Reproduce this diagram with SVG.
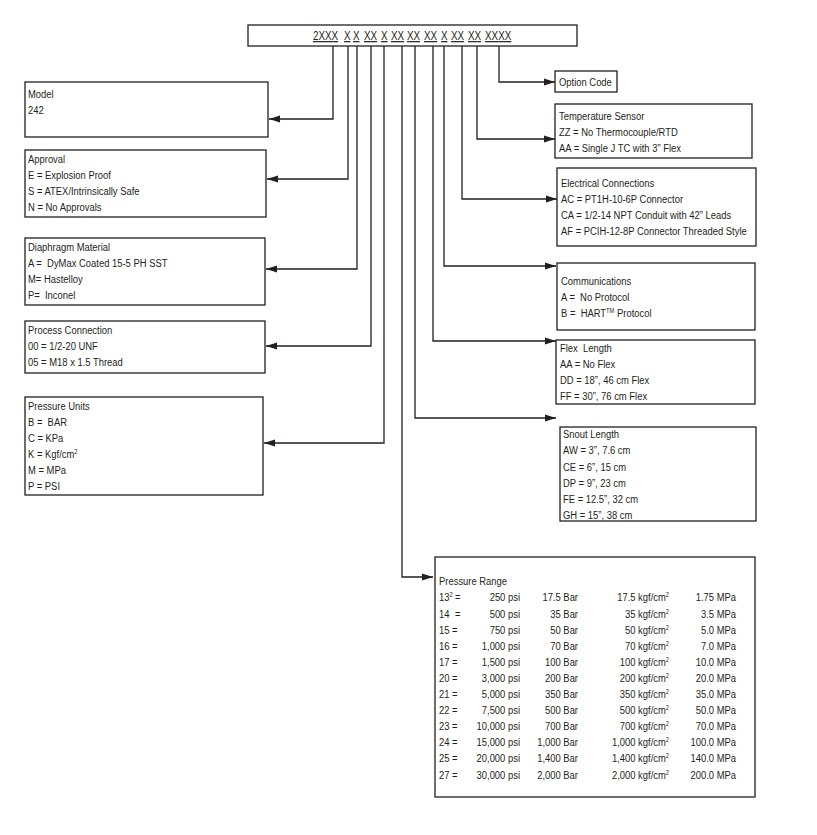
<svg xmlns="http://www.w3.org/2000/svg" width="817" height="835" viewBox="0 0 817 835">
<style>
text{font-family:"Liberation Sans",Arial,sans-serif;font-size:11.5px;fill:#231f20}
.box{fill:#fff;stroke:#231f20;stroke-width:1.3}
.hdr{font-size:12px;text-decoration:underline}
.e{text-anchor:end}
.sup{font-size:7px}
.con{fill:none;stroke:#231f20;stroke-width:1.3}
</style>
<defs>
<marker id="ah" markerUnits="userSpaceOnUse" markerWidth="12" markerHeight="8" refX="11" refY="4" orient="auto">
<path d="M0,0.5 L11,4 L0,7.5 z" fill="#231f20"/>
</marker>
</defs>
<rect width="817" height="835" fill="#fff"/>

<g id="header">
<rect class="box" x="248" y="25" width="329" height="21"/>
<g transform="scale(0.82,1)">
<text class="hdr" x="381.7" y="40">2XXX</text>
<text class="hdr" x="419.5" y="40">X</text>
<text class="hdr" x="430.5" y="40">X</text>
<text class="hdr" x="443.9" y="40">XX</text>
<text class="hdr" x="464.6" y="40">X</text>
<text class="hdr" x="476.8" y="40">XX</text>
<text class="hdr" x="496.3" y="40">XX</text>
<text class="hdr" x="517.1" y="40">XX</text>
<text class="hdr" x="537.8" y="40">X</text>
<text class="hdr" x="550.0" y="40">XX</text>
<text class="hdr" x="570.7" y="40">XX</text>
<text class="hdr" x="591.5" y="40">XXXX</text>
</g>
</g>

<g id="connectors">
<path class="con" marker-end="url(#ah)" d="M333,46 V119 H269"/>
<path class="con" marker-end="url(#ah)" d="M348,46 V179 H267"/>
<path class="con" marker-end="url(#ah)" d="M357,46 V269 H266"/>
<path class="con" marker-end="url(#ah)" d="M371,46 V346 H266"/>
<path class="con" marker-end="url(#ah)" d="M384,46 V443 H264"/>
<path class="con" marker-end="url(#ah)" d="M402,46 V577 H433"/>
<path class="con" marker-end="url(#ah)" d="M415,46 V418 H556"/>
<path class="con" marker-end="url(#ah)" d="M433,46 V341 H556"/>
<path class="con" marker-end="url(#ah)" d="M444,46 V266 H556"/>
<path class="con" marker-end="url(#ah)" d="M462,46 V199 H557"/>
<path class="con" marker-end="url(#ah)" d="M477,46 V139 H555"/>
<path class="con" marker-end="url(#ah)" d="M499,46 V82 H555"/>
</g>

<g id="model">
<rect class="box" x="25" y="82" width="243" height="55"/>
<g transform="scale(0.82,1)">
<text x="34.15" y="98">Model</text>
<text x="34.15" y="114">242</text>
</g>
</g>

<g id="approval">
<rect class="box" x="25" y="150" width="241" height="67"/>
<g transform="scale(0.82,1)">
<text x="34.15" y="163">Approval</text>
<text x="34.15" y="179">E = Explosion Proof</text>
<text x="34.15" y="195">S = ATEX/Intrinsically Safe</text>
<text x="34.15" y="211">N = No Approvals</text>
</g>
</g>

<g id="diaphragm">
<rect class="box" x="25" y="238" width="240" height="67"/>
<g transform="scale(0.82,1)">
<text x="34.15" y="251">Diaphragm Material</text>
<text x="34.15" y="267">A =&#160; DyMax Coated 15-5 PH SST</text>
<text x="34.15" y="283">M= Hastelloy</text>
<text x="34.15" y="299">P=&#160; Inconel</text>
</g>
</g>

<g id="process">
<rect class="box" x="25" y="321" width="240" height="52"/>
<g transform="scale(0.82,1)">
<text x="34.15" y="334">Process Connection</text>
<text x="34.15" y="350">00 = 1/2-20 UNF</text>
<text x="34.15" y="366">05 = M18 x 1.5 Thread</text>
</g>
</g>

<g id="units">
<rect class="box" x="25" y="397" width="238" height="98"/>
<g transform="scale(0.82,1)">
<text x="34.15" y="410">Pressure Units</text>
<text x="34.15" y="426">B =&#160; BAR</text>
<text x="34.15" y="442">C = KPa</text>
<text x="34.15" y="458">K = Kgf/cm<tspan class="sup" dy="-4">2</tspan></text>
<text x="34.15" y="474">M = MPa</text>
<text x="34.15" y="490">P = PSI</text>
</g>
</g>

<g id="option">
<rect class="box" x="555" y="71" width="62" height="21"/>
<g transform="scale(0.82,1)">
<text x="681.7" y="86">Option Code</text>
</g>
</g>

<g id="temperature">
<rect class="box" x="555" y="104" width="197" height="54"/>
<g transform="scale(0.82,1)">
<text x="681.7" y="120">Temperature Sensor</text>
<text x="681.7" y="136">ZZ = No Thermocouple/RTD</text>
<text x="681.7" y="152">AA = Single J TC with 3” Flex</text>
</g>
</g>

<g id="electrical">
<rect class="box" x="557" y="168" width="199" height="78"/>
<g transform="scale(0.82,1)">
<text x="684.15" y="187">Electrical Connections</text>
<text x="684.15" y="203">AC = PT1H-10-6P Connector</text>
<text x="684.15" y="219">CA = 1/2-14 NPT Conduit with 42” Leads</text>
<text x="684.15" y="235">AF = PCIH-12-8P Connector Threaded Style</text>
</g>
</g>

<g id="communications">
<rect class="box" x="557" y="263" width="198" height="67"/>
<g transform="scale(0.82,1)">
<text x="684.15" y="285">Communications</text>
<text x="684.15" y="301">A =&#160; No Protocol</text>
<text x="684.15" y="317">B =&#160; HART<tspan class="sup" dy="-4">TM</tspan><tspan dy="4"> Protocol</tspan></text>
</g>
</g>

<g id="flex">
<rect class="box" x="556" y="340" width="199" height="64"/>
<g transform="scale(0.82,1)">
<text x="682.9" y="352">Flex&#160; Length</text>
<text x="682.9" y="368">AA = No Flex</text>
<text x="682.9" y="384">DD = 18”, 46 cm Flex</text>
<text x="682.9" y="400">FF = 30”, 76 cm Flex</text>
</g>
</g>

<g id="snout">
<rect class="box" x="560" y="427" width="196" height="94"/>
<g transform="scale(0.82,1)">
<text x="686.6" y="438">Snout Length</text>
<text x="686.6" y="454">AW = 3”, 7.6 cm</text>
<text x="686.6" y="471">CE = 6”, 15 cm</text>
<text x="686.6" y="487">DP = 9”, 23 cm</text>
<text x="686.6" y="503">FE = 12.5”, 32 cm</text>
<text x="686.6" y="519">GH = 15”, 38 cm</text>
</g>
</g>

<g id="pressure-range">
<rect class="box" x="435" y="557" width="320" height="240"/>
<g transform="scale(0.82,1)">
<text x="535.4" y="585">Pressure Range</text>
<text x="535.4" y="601.5">13<tspan class="sup" dy="-4">2</tspan></text><text x="554.9" y="601.5">=</text>
<text x="535.4" y="617.6">14</text><text x="554.9" y="617.6">=</text>
<text x="535.4" y="633.7">15 =</text>
<text x="535.4" y="649.8">16 =</text>
<text x="535.4" y="665.9">17 =</text>
<text x="535.4" y="682">20 =</text>
<text x="535.4" y="698.1">21 =</text>
<text x="535.4" y="714.2">22 =</text>
<text x="535.4" y="730.3">23 =</text>
<text x="535.4" y="746.4">24 =</text>
<text x="535.4" y="762.5">25 =</text>
<text x="535.4" y="778.6">27 =</text>
<text class="e" x="634.15" y="601.5">250 psi</text>
<text class="e" x="634.15" y="617.6">500 psi</text>
<text class="e" x="634.15" y="633.7">750 psi</text>
<text class="e" x="634.15" y="649.8">1,000 psi</text>
<text class="e" x="634.15" y="665.9">1,500 psi</text>
<text class="e" x="634.15" y="682">3,000 psi</text>
<text class="e" x="634.15" y="698.1">5,000 psi</text>
<text class="e" x="634.15" y="714.2">7,500 psi</text>
<text class="e" x="634.15" y="730.3">10,000 psi</text>
<text class="e" x="634.15" y="746.4">15,000 psi</text>
<text class="e" x="634.15" y="762.5">20,000 psi</text>
<text class="e" x="634.15" y="778.6">30,000 psi</text>
<text class="e" x="704.9" y="601.5">17.5 Bar</text>
<text class="e" x="704.9" y="617.6">35 Bar</text>
<text class="e" x="704.9" y="633.7">50 Bar</text>
<text class="e" x="704.9" y="649.8">70 Bar</text>
<text class="e" x="704.9" y="665.9">100 Bar</text>
<text class="e" x="704.9" y="682">200 Bar</text>
<text class="e" x="704.9" y="698.1">350 Bar</text>
<text class="e" x="704.9" y="714.2">500 Bar</text>
<text class="e" x="704.9" y="730.3">700 Bar</text>
<text class="e" x="704.9" y="746.4">1,000 Bar</text>
<text class="e" x="704.9" y="762.5">1,400 Bar</text>
<text class="e" x="704.9" y="778.6">2,000 Bar</text>
<text class="e" x="815.9" y="601.5">17.5 kgf/cm<tspan class="sup" dy="-4">2</tspan></text>
<text class="e" x="815.9" y="617.6">35 kgf/cm<tspan class="sup" dy="-4">2</tspan></text>
<text class="e" x="815.9" y="633.7">50 kgf/cm<tspan class="sup" dy="-4">2</tspan></text>
<text class="e" x="815.9" y="649.8">70 kgf/cm<tspan class="sup" dy="-4">2</tspan></text>
<text class="e" x="815.9" y="665.9">100 kgf/cm<tspan class="sup" dy="-4">2</tspan></text>
<text class="e" x="815.9" y="682">200 kgf/cm<tspan class="sup" dy="-4">2</tspan></text>
<text class="e" x="815.9" y="698.1">350 kgf/cm<tspan class="sup" dy="-4">2</tspan></text>
<text class="e" x="815.9" y="714.2">500 kgf/cm<tspan class="sup" dy="-4">2</tspan></text>
<text class="e" x="815.9" y="730.3">700 kgf/cm<tspan class="sup" dy="-4">2</tspan></text>
<text class="e" x="815.9" y="746.4">1,000 kgf/cm<tspan class="sup" dy="-4">2</tspan></text>
<text class="e" x="815.9" y="762.5">1,400 kgf/cm<tspan class="sup" dy="-4">2</tspan></text>
<text class="e" x="815.9" y="778.6">2,000 kgf/cm<tspan class="sup" dy="-4">2</tspan></text>
<text class="e" x="897.6" y="601.5">1.75 MPa</text>
<text class="e" x="897.6" y="617.6">3.5 MPa</text>
<text class="e" x="897.6" y="633.7">5.0 MPa</text>
<text class="e" x="897.6" y="649.8">7.0 MPa</text>
<text class="e" x="897.6" y="665.9">10.0 MPa</text>
<text class="e" x="897.6" y="682">20.0 MPa</text>
<text class="e" x="897.6" y="698.1">35.0 MPa</text>
<text class="e" x="897.6" y="714.2">50.0 MPa</text>
<text class="e" x="897.6" y="730.3">70.0 MPa</text>
<text class="e" x="897.6" y="746.4">100.0 MPa</text>
<text class="e" x="897.6" y="762.5">140.0 MPa</text>
<text class="e" x="897.6" y="778.6">200.0 MPa</text>
</g>
</g>
</svg>
